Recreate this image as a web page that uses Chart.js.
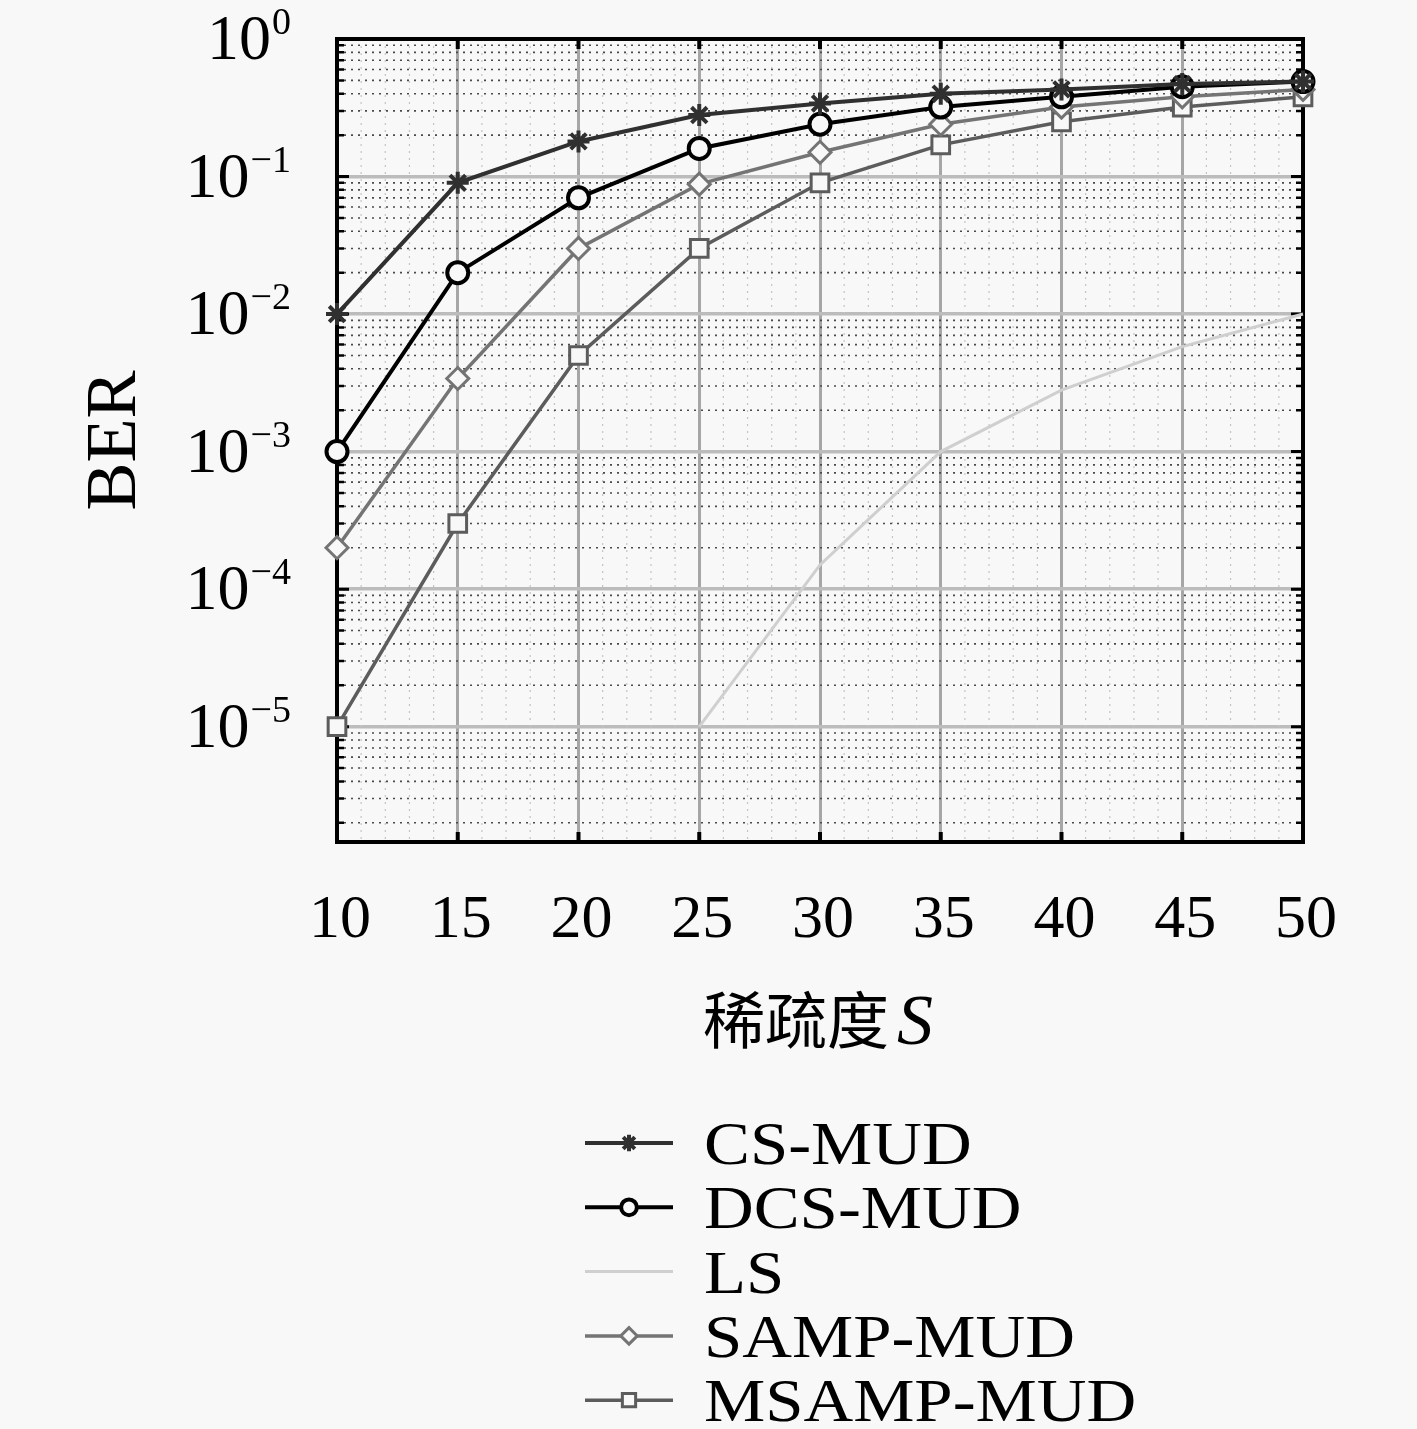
<!DOCTYPE html>
<html>
<head>
<meta charset="utf-8">
<script src="https://cdn.jsdelivr.net/npm/chart.js@4.4.0/dist/chart.umd.min.js"></script>
<style>
body { margin: 0; background: #f8f8f8; }
canvas { display: block; }
</style>
</head>
<body>
<canvas id="ber" width="1417" height="1429"></canvas>
<script>
// sparsity S on the x axis
const sparsity = [10, 15, 20, 25, 30, 35, 40, 45, 50];

// BER
const berCS = [1e-2, 0.09, 0.18, 0.28, 0.34, 0.40, 0.43, 0.47, 0.49];
const berDCS = [1e-3, 0.02, 0.07, 0.16, 0.24, 0.32, 0.38, 0.45, 0.49];
const berLS = [null, null, null, 1e-5, 1.5e-4, 1e-3, 2.8e-3, 5.8e-3, 1e-2];
const berSAMP = [2e-4, 3.4e-3, 0.03, 0.088, 0.15, 0.24, 0.32, 0.38, 0.43];
const berMSAMP = [1e-5, 3e-4, 5e-3, 0.03, 0.09, 0.17, 0.25, 0.32, 0.38];

const seriesNames = ['CS-MUD', 'DCS-MUD', 'LS', 'SAMP-MUD', 'MSAMP-MUD'];

const xTickValues = [10, 15, 20, 25, 30, 35, 40, 45, 50];
const yDecades = [1, 1e-1, 1e-2, 1e-3, 1e-4, 1e-5];
const yExponents = ['0', '\u22121', '\u22122', '\u22123', '\u22124', '\u22125'];

const yMin = 1.45e-6, yMax = 1;
const serif = '"Liberation Serif", "DejaVu Serif", serif';

function pts(vals) {
    return sparsity.map((s, i) => ({ x: s, y: vals[i] }));
}

// minor y values 2..9 x decade
function minorValues() {
    const out = [];
    for (let e = -6; e < 0; e++) {
        for (let k = 2; k <= 9; k++) {
            const v = k * Math.pow(10, e);
            if (v > yMin && v < yMax) out.push(v);
        }
    }
    return out;
}

// wide serif text (the original uses Computer Modern, which runs wider)
function wideText(ctx, text, x, y, sx) {
    ctx.save();
    ctx.translate(x, y);
    ctx.scale(sx, 1);
    ctx.fillText(text, 0, 0);
    ctx.restore();
}

const frame = {
    id: 'frame',
    beforeDatasetsDraw(chart) {
        const ctx = chart.ctx;
        const { left, right, top, bottom } = chart.chartArea;
        const xs = chart.scales.x, ys = chart.scales.y;
        ctx.save();
        // faint vertical minor grid
        ctx.strokeStyle = '#c4c4c4';
        ctx.lineWidth = 1.2;
        ctx.setLineDash([2, 5]);
        for (let s = 11; s < 50; s++) {
            if (s % 5 === 0) continue;
            const x = xs.getPixelForValue(s);
            ctx.beginPath(); ctx.moveTo(x, top); ctx.lineTo(x, bottom); ctx.stroke();
        }
        // dotted horizontal minor grid
        ctx.strokeStyle = '#4a4a4a';
        ctx.lineWidth = 1.6;
        ctx.setLineDash([2, 5]);
        minorValues().forEach(v => {
            const y = ys.getPixelForValue(v);
            ctx.beginPath(); ctx.moveTo(left, y); ctx.lineTo(right, y); ctx.stroke();
        });
        ctx.setLineDash([]);
        // inward ticks
        ctx.strokeStyle = '#000';
        ctx.lineWidth = 2.5;
        minorValues().forEach(v => {
            const y = ys.getPixelForValue(v);
            ctx.beginPath();
            ctx.moveTo(left, y); ctx.lineTo(left + 7, y);
            ctx.moveTo(right, y); ctx.lineTo(right - 7, y);
            ctx.stroke();
        });
        ctx.lineWidth = 3;
        yDecades.forEach(v => {
            const y = ys.getPixelForValue(v);
            ctx.beginPath();
            ctx.moveTo(left, y); ctx.lineTo(left + 12, y);
            ctx.moveTo(right, y); ctx.lineTo(right - 12, y);
            ctx.stroke();
        });
        ctx.lineWidth = 4;
        xTickValues.forEach(v => {
            const x = xs.getPixelForValue(v);
            ctx.beginPath();
            ctx.moveTo(x, top); ctx.lineTo(x, top + 10);
            ctx.moveTo(x, bottom); ctx.lineTo(x, bottom - 10);
            ctx.stroke();
        });
        ctx.lineWidth = 4;
        ctx.strokeRect(left, top, right - left, bottom - top);
        ctx.restore();
    },
    afterDraw(chart) {
        const ctx = chart.ctx;
        const { top, bottom } = chart.chartArea;
        const xs = chart.scales.x, ys = chart.scales.y;
        ctx.save();
        ctx.fillStyle = '#000';
        ctx.textBaseline = 'alphabetic';

        // y tick labels 10^n
        yDecades.forEach((v, i) => {
            const y = ys.getPixelForValue(v);
            ctx.font = '38px ' + serif;
            ctx.textAlign = 'right';
            const ex = yExponents[i];
            const w = ctx.measureText(ex).width;
            ctx.fillText(ex, 291, y - 5);
            ctx.font = '64px ' + serif;
            ctx.fillText('10', 291 - w - 1, y + 20);
        });

        // x tick labels
        ctx.font = '62px ' + serif;
        ctx.textAlign = 'center';
        xTickValues.forEach(v => {
            ctx.fillText(String(v), xs.getPixelForValue(v) + 3, 937);
        });

        // x title
        ctx.textAlign = 'left';
        ctx.font = '62px "Noto Sans CJK SC", sans-serif';
        ctx.fillText('稀疏度', 703, 1044);
        const cw = ctx.measureText('稀疏度').width;
        ctx.font = 'italic 72px ' + serif;
        ctx.fillText('S', 703 + cw + 8, 1044);

        // y title
        ctx.save();
        ctx.translate(135, (top + bottom) / 2);
        ctx.rotate(-Math.PI / 2);
        ctx.textAlign = 'center';
        ctx.font = '72px ' + serif;
        ctx.fillText('BER', 0, 0);
        ctx.restore();

        // legend
        chart.data.datasets.forEach((ds, i) => {
            const y = 1143 + i * 64.3;
            ctx.strokeStyle = ds.borderColor;
            ctx.lineWidth = ds.borderWidth;
            ctx.beginPath(); ctx.moveTo(585, y); ctx.lineTo(673, y); ctx.stroke();
            if (ds.pointRadius > 0) {
                ctx.fillStyle = ds.pointBackgroundColor;
                ctx.strokeStyle = ds.borderColor;
                ctx.lineWidth = ds.pointBorderWidth;
                Chart.helpers.drawPoint(ctx, {
                    pointStyle: ds.pointStyle,
                    radius: ds.pointRadius * 0.75,
                    rotation: 0,
                    borderWidth: ds.pointBorderWidth
                }, 629, y);
            }
            ctx.fillStyle = '#000';
            ctx.font = '62px ' + serif;
            ctx.textAlign = 'left';
            wideText(ctx, ds.label, 704, y + 21, 1.11);
        });
        ctx.restore();
    }
};

function series(i, vals, color, width, style, radius, pbw) {
    return {
        label: seriesNames[i],
        data: pts(vals),
        borderColor: color,
        borderWidth: width,
        pointStyle: style,
        pointRadius: radius,
        pointHoverRadius: radius,
        pointBorderColor: color,
        pointBackgroundColor: style === 'star' ? color : '#f8f8f8',
        pointBorderWidth: pbw,
        tension: 0,
        clip: false,
        spanGaps: false
    };
}

new Chart(document.getElementById('ber'), {
    type: 'line',
    data: {
        datasets: [
            series(0, berCS, '#303030', 4, 'star', 11, 4),
            series(1, berDCS, '#000000', 4, 'circle', 10.5, 4),
            series(2, berLS, '#cfcfcf', 3, 'circle', 0, 0),
            series(3, berSAMP, '#747474', 3.5, 'rectRot', 11, 3),
            series(4, berMSAMP, '#5c5c5c', 3.5, 'rect', 12.5, 3)
        ]
    },
    options: {
        responsive: false,
        animation: false,
        devicePixelRatio: 1,
        layout: { padding: { left: 337, right: 114, top: 39, bottom: 587 } },
        plugins: { legend: { display: false }, tooltip: { enabled: false } },
        scales: {
            x: {
                type: 'linear',
                min: 10,
                max: 50,
                afterBuildTicks: scale => { scale.ticks = xTickValues.map(v => ({ value: v })); },
                ticks: { display: false },
                border: { display: false },
                grid: { color: '#a6a6a6', lineWidth: 3, drawTicks: false }
            },
            y: {
                type: 'logarithmic',
                min: yMin,
                max: yMax,
                afterBuildTicks: scale => { scale.ticks = yDecades.map(v => ({ value: v })); },
                ticks: { display: false },
                border: { display: false },
                grid: { color: '#bcbcbc', lineWidth: 3.5, drawTicks: false }
            }
        }
    },
    plugins: [frame]
});
</script>
</body>
</html>
